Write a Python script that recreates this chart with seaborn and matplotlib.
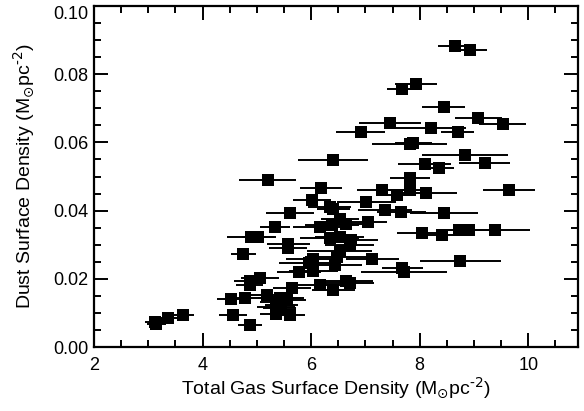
import numpy as np
import pandas as pd
import matplotlib
matplotlib.use("Agg")
import matplotlib.pyplot as plt
import seaborn as sns
from matplotlib.ticker import MultipleLocator

# Total gas surface density (Msun pc^-2)
gas = [8.66, 8.93, 7.93, 7.67, 8.44, 9.08, 9.53, 7.46, 8.20, 6.91,
       8.70, 7.82, 7.88, 6.40, 8.83, 8.09, 8.35, 9.20, 7.82, 5.20,
       6.18, 7.30, 7.83, 8.12, 9.65, 6.02, 7.02, 7.58, 6.34, 6.41,
       7.36, 7.66, 8.45, 5.61, 6.53, 7.05, 5.33, 6.16, 6.38, 6.65,
       8.04, 8.42, 8.73, 8.90, 9.39, 4.90, 5.02, 6.34, 6.53, 6.73,
       5.58, 5.58, 6.71, 4.75, 6.53, 6.48, 6.03, 5.96, 6.04, 6.44,
       7.13, 8.75, 7.68, 7.71, 5.78, 4.87, 5.05, 4.87, 5.64, 6.17,
       6.64, 6.71, 6.41, 4.52, 4.78, 5.18, 5.42, 5.55, 5.45, 5.36,
       4.56, 4.88, 5.36, 5.61, 3.12, 3.15, 3.36, 3.64, 5.36, 5.51,
       5.42]
# Dust surface density (Msun pc^-2)
dust = [0.0883, 0.0869, 0.0772, 0.0757, 0.0703, 0.0671, 0.0654, 0.0658, 0.0643, 0.0631,
        0.0631, 0.0594, 0.0599, 0.0548, 0.0564, 0.0536, 0.0526, 0.0539, 0.0495, 0.0490,
        0.0466, 0.0461, 0.0461, 0.0451, 0.0461, 0.0431, 0.0426, 0.0446, 0.0410, 0.0404,
        0.0402, 0.0396, 0.0394, 0.0392, 0.0376, 0.0368, 0.0353, 0.0351, 0.0358, 0.0360,
        0.0336, 0.0329, 0.0343, 0.0343, 0.0343, 0.0324, 0.0322, 0.0321, 0.0324, 0.0314,
        0.0303, 0.0290, 0.0300, 0.0274, 0.0283, 0.0263, 0.0258, 0.0246, 0.0222, 0.0241,
        0.0258, 0.0254, 0.0231, 0.0221, 0.0219, 0.0195, 0.0202, 0.0182, 0.0173, 0.0182,
        0.0193, 0.0187, 0.0168, 0.0141, 0.0143, 0.0153, 0.0143, 0.0139, 0.0124, 0.0119,
        0.0095, 0.0065, 0.0098, 0.0095, 0.0075, 0.0068, 0.0085, 0.0095, 0.0134, 0.0143,
        0.0114]
# Horizontal error (gas surface density uncertainty)
gas_err = [0.33, 0.31, 0.38, 0.28, 0.39, 0.43, 0.43, 0.57, 0.65, 0.46,
           0.31, 0.69, 0.34, 0.65, 0.79, 0.49, 0.28, 0.47, 0.37, 0.52,
           0.39, 0.45, 0.40, 0.57, 0.48, 0.35, 0.55, 0.35, 0.40, 0.30,
           0.50, 0.45, 0.62, 0.45, 0.35, 0.35, 0.28, 0.50, 0.50, 0.45,
           0.46, 0.35, 0.30, 0.40, 0.65, 0.45, 0.30, 0.55, 0.45, 0.50,
           0.40, 0.35, 0.45, 0.23, 0.60, 0.60, 0.50, 0.55, 0.45, 0.50,
           0.48, 0.75, 0.38, 0.79, 0.40, 0.30, 0.35, 0.25, 0.35, 0.45,
           0.50, 0.45, 0.40, 0.25, 0.30, 0.35, 0.40, 0.35, 0.30, 0.35,
           0.25, 0.22, 0.30, 0.28, 0.18, 0.18, 0.20, 0.20, 0.30, 0.35,
           0.30]

df = pd.DataFrame({"gas": gas, "dust": dust, "err": gas_err})

sns.set_theme(style="white")
plt.rcParams['font.family'] = ['Liberation Sans', 'DejaVu Sans']
plt.rcParams['mathtext.fontset'] = 'dejavusans'

fig = plt.figure(figsize=(5.84, 4.11), dpi=100)
ax = fig.add_axes([0.161, 0.155, 0.829, 0.831])

ax.errorbar(df["gas"], df["dust"], xerr=df["err"], fmt='none',
            ecolor='black', elinewidth=1.4, capsize=0, zorder=2)
sns.scatterplot(data=df, x="gas", y="dust", marker='s', s=82, color='black',
                edgecolor='black', linewidth=0, ax=ax, zorder=3)

ax.set_xlim(2, 10.92)
ax.set_ylim(0, 0.10)
ax.xaxis.set_major_locator(MultipleLocator(2))
ax.xaxis.set_minor_locator(MultipleLocator(0.5))
ax.yaxis.set_major_locator(MultipleLocator(0.02))
ax.yaxis.set_minor_locator(MultipleLocator(0.005))
ax.yaxis.set_major_formatter(matplotlib.ticker.FormatStrFormatter('%.2f'))

ax.tick_params(which='both', direction='in', top=True, right=True,
               bottom=True, left=True, colors='black', labelsize=13)
ax.tick_params(which='major', length=10, width=1.4)
ax.tick_params(which='minor', length=5, width=1.4)
ax.tick_params(axis='x', which='major', pad=7)
ax.tick_params(axis='y', which='major', pad=4)
for sp in ax.spines.values():
    sp.set_color('black')
    sp.set_linewidth(1.6)

ax.set_xlabel(r'Total Gas Surface Density (M$_{\odot}$pc$^{\text{-2}}$)', fontsize=14,
              color='black', labelpad=1)
ax.set_ylabel(r'Dust Surface Density (M$_{\odot}$pc$^{\text{-2}}$)', fontsize=14,
              color='black', labelpad=12)

fig.canvas.draw()
for t in ax.yaxis.get_major_ticks():
    if abs(t.get_loc() - 0.10) < 1e-9:
        t.label1.set_verticalalignment('top')

fig.savefig("out.png", dpi=100)
